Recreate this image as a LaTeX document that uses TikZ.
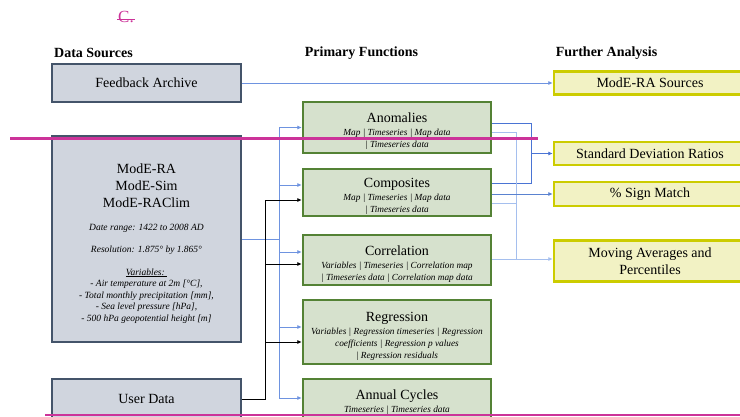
\documentclass[tikz,border=0pt]{standalone}
\usepackage{fontspec}
\setmainfont{Liberation Serif}
\usetikzlibrary{arrows.meta,calc}
\definecolor{grayfill}{HTML}{D0D5DE}
\definecolor{grayline}{HTML}{44546A}
\definecolor{greenfill}{HTML}{D6E1CD}
\definecolor{greenline}{HTML}{548235}
\definecolor{yelfill}{HTML}{F2F2C4}
\definecolor{yelline}{HTML}{CCCC00}
\definecolor{mag}{HTML}{CC3399}
\definecolor{blueA}{HTML}{6E93E0}
\definecolor{blueB}{HTML}{4A74D4}
\definecolor{blueC}{HTML}{A5BFEE}
\definecolor{blueD}{HTML}{5A82D0}
\newcommand\gtitle[2][17pt]{{\upshape\fontsize{14}{14}\selectfont\rule{0pt}{#1}#2}}
\begin{document}
\begin{tikzpicture}[x=1pt,y=-1pt,
  graybox/.style={draw=grayline,line width=2pt,fill=grayfill,minimum width=189pt,inner sep=0pt,font=\fontsize{14}{17}\selectfont},
  greenbox/.style={draw=greenline,line width=2.4pt,fill=greenfill,minimum width=188pt,inner sep=0pt,align=center,font=\fontsize{9.3}{12}\selectfont\itshape},
  yelbox/.style={draw=yelline,line width=2.4pt,fill=yelfill,minimum width=192pt,inner sep=0pt,align=center,font=\fontsize{14}{17}\selectfont},
  hdr/.style={font=\fontsize{14}{16}\selectfont\bfseries,inner sep=0pt},
  small/.style={font=\fontsize{9.5}{11.6}\selectfont\itshape,inner sep=0pt,align=center},
  conn/.style={line width=0.85pt},
  tip/.style={-{Latex[length=4.5pt,width=4pt]}},
]
\clip (0,0) rectangle (740,416);
\fill[white] (0,0) rectangle (740,416);

% title mark
\node[text=mag,font=\fontsize{17}{17}\selectfont,inner sep=0pt] (cc) at (126,17) {C.};
\draw[mag,line width=0.8pt] ($(cc.west)+(-1,2)$) -- ($(cc.east)+(1,2)$);

% headers
\node[hdr] (h1) at (93.5,53) {Data Sources};
\node[hdr] (h2) at (361.5,53) {Primary Functions};
\node[hdr] (h3) at (606.5,53) {Further Analysis};

% data sources
\node[graybox,minimum height=38pt] (fb) at (146.5,83) {Feedback Archive};
\node[graybox,minimum height=206pt] (mode) at (146.5,239) {};
\node[font=\fontsize{14}{17}\selectfont,align=center,inner sep=0pt] (modeT) at (146.5,186) {ModE-RA\\ModE-Sim\\ModE-RAClim};
\node[small] (modeD) at (146.5,228) {Date range: 1422 to 2008 AD};
\node[small] (modeR) at (146.5,250) {Resolution: 1.875° by 1.865°};
\node[small] (modeV) at (146.5,296) {\underline{Variables:\ }\\- Air temperature at 2m [°C],\\- Total monthly precipitation [mm],\\- Sea level pressure [hPa],\\- 500 hPa geopotential height [m]};
\node[graybox,minimum height=40pt] (ud) at (146.5,399) {User Data};

% primary functions
\node[greenbox,minimum height=51pt] (anom) at (397,127.5) {\gtitle{Anomalies}\\[1pt]Map | Timeseries | Map data\\| Timeseries data};
\node[greenbox,minimum height=47pt] (comp) at (397,192.5) {\gtitle{Composites}\\[1pt]Map | Timeseries | Map data\\| Timeseries data};
\node[greenbox,minimum height=50pt] (corr) at (397,260) {\gtitle{Correlation}\\[1pt]Variables | Timeseries | Correlation map\\| Timeseries data | Correlation map data};
\node[greenbox,minimum height=64pt] (regr) at (397,332) {\gtitle{Regression}\\[1pt]Variables | Regression timeseries | Regression\\coefficients | Regression p values\\| Regression residuals};
\node[greenbox,minimum height=42pt] (ac) at (397,400) {\gtitle[13pt]{Annual Cycles}\\[1pt]Timeseries | Timeseries data};

% further analysis
\node[yelbox,minimum height=23pt] (src) at (650,83) {ModE-RA Sources};
\node[yelbox,minimum height=23pt] (sd) at (650,153.5) {Standard Deviation Ratios};
\node[yelbox,minimum height=24pt] (sign) at (650,194) {\% Sign Match};
\node[yelbox,minimum height=41pt] (mavg) at (650,261) {Moving Averages and\\Percentiles};

% feedback archive -> sources
\draw[conn,blueA,tip] (fb.east) -- (src.west);

% left blue bus
\coordinate (lb0) at (279,239);
\coordinate (lb1) at (279,127.5);
\coordinate (lb2) at (279,185);
\coordinate (lb3) at (279,252);
\coordinate (lb4) at (279,327);
\coordinate (lb5) at (279,398);
\draw[conn,blueA] (mode.east |- lb0) -- (lb0);
\draw[conn,blueA] (lb1) -- (lb5);
\draw[conn,blueA,tip] (lb1) -- (lb1 -| anom.west);
\draw[conn,blueA,tip] (lb2) -- (lb2 -| comp.west);
\draw[conn,blueA,tip] (lb3) -- (lb3 -| corr.west);
\draw[conn,blueA,tip] (lb4) -- (lb4 -| regr.west);
\draw[conn,blueA,tip] (lb5) -- (lb5 -| ac.west);

% black bus from user data
\coordinate (kb1) at (265,200);
\coordinate (kb2) at (265,264);
\coordinate (kb3) at (265,342);
\draw[conn,black] (ud.east) -| (kb1);
\draw[conn,black,tip] (kb1) -- (kb1 -| comp.west);
\draw[conn,black,tip] (kb2) -- (kb2 -| corr.west);
\draw[conn,black,tip] (kb3) -- (kb3 -| regr.west);

% right: standard deviation bus
\coordinate (sd1) at (531,123);
\coordinate (sd2) at (531,183);
\coordinate (sdm) at (531,153.5);
\draw[conn,blueB] (sd1 -| anom.east) -- (sd1) -- (sd2) -- (sd2 -| comp.east);
\draw[conn,blueB,tip] (sdm) -- (sd.west);

% right: moving averages bus
\coordinate (ma1) at (516,132);
\coordinate (ma2) at (516,203);
\coordinate (ma3) at (516,259);
\draw[conn,blueC] (ma1 -| anom.east) -- (ma1) -- (ma3);
\draw[conn,blueC] (ma2 -| comp.east) -- (ma2);
\draw[conn,blueC,tip] (ma3 -| corr.east) -- (ma3 -| mavg.west);

% right: sign match
\coordinate (sg) at (520,194);
\draw[conn,blueD,tip] (sg -| comp.east) -- (sign.west);

% magenta overlay lines
\draw[mag,line width=3pt] (10,138) -- (538,138);
\draw[mag,line width=2.5pt] (45,415) -- (740,415);
\end{tikzpicture}
\end{document}
